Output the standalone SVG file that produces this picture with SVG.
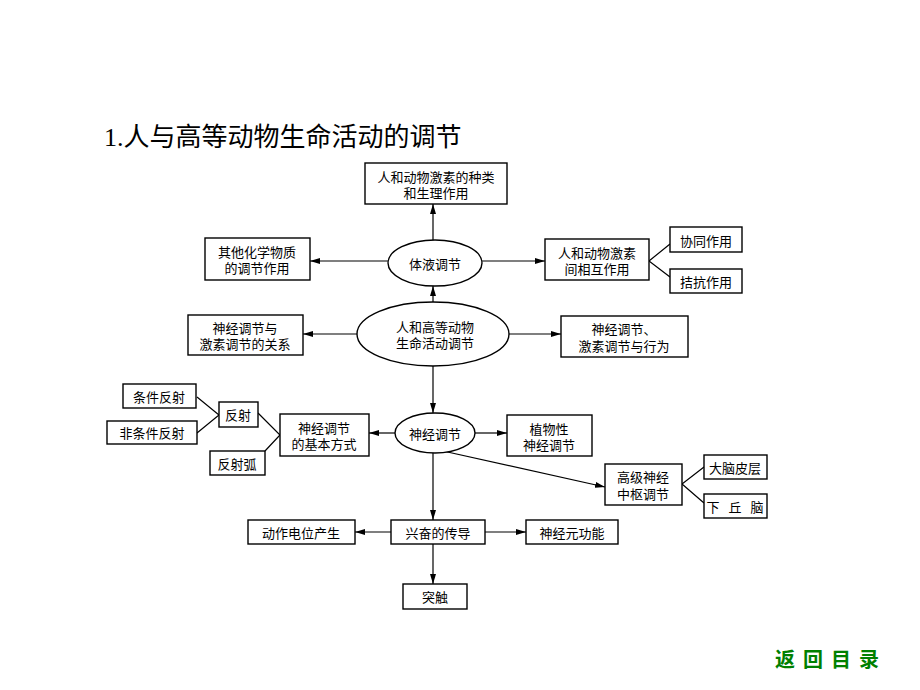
<svg xmlns="http://www.w3.org/2000/svg" width="920" height="690" viewBox="0 0 920 690">
<style>
.b{fill:#fff;stroke:#000;stroke-width:1.4}
.t{font-family:"Noto Sans CJK SC","Noto Sans CJK JP",sans-serif;font-size:13px;fill:#000;text-anchor:middle;dominant-baseline:central}
.c{stroke:#000;stroke-width:1.2;fill:none}
.a{marker-end:url(#ah)}
</style>
<defs>
<marker id="ah" viewBox="0 0 10 6" refX="10" refY="3" markerWidth="10" markerHeight="6" markerUnits="userSpaceOnUse" orient="auto">
<path d="M0,0L10,3L0,6z" fill="#000"/>
</marker>
</defs>
<rect width="920" height="690" fill="#fff"/>
<text x="104" y="146" font-family="'Liberation Serif','Noto Sans CJK SC',serif" font-size="26" fill="#000">1.<tspan font-family="'Noto Sans CJK SC',sans-serif">人与高等动物生命活动的调节</tspan></text>

<g id="connectors">
<line class="c a" x1="433" y1="240" x2="433" y2="204"/>
<line class="c a" x1="388" y1="261" x2="310" y2="261"/>
<line class="c a" x1="482" y1="261" x2="545" y2="261"/>
<line class="c a" x1="433" y1="302" x2="433" y2="286"/>
<line class="c a" x1="357" y1="334" x2="303" y2="334"/>
<line class="c a" x1="509" y1="334" x2="561" y2="334"/>
<line class="c a" x1="433" y1="366" x2="433" y2="413"/>
<line class="c a" x1="395" y1="433" x2="369" y2="433"/>
<line class="c a" x1="475" y1="433" x2="507" y2="433"/>
<line class="c a" x1="443" y1="451" x2="605" y2="487"/>
<line class="c a" x1="433" y1="453" x2="433" y2="520"/>
<line class="c a" x1="391" y1="532" x2="355" y2="532"/>
<line class="c a" x1="485" y1="532" x2="526" y2="532"/>
<line class="c a" x1="433" y1="544" x2="433" y2="584"/>
<polyline class="c" points="670,244 649,261 670,277"/>
<polyline class="c" points="197,397 219,415 197,433"/>
<polyline class="c" points="258,413 280,435 265,451"/>
<polyline class="c" points="704,467 682,484 704,503"/>
</g>

<g id="n_types"><rect class="b" x="365" y="163" width="142" height="41"/><text class="t" x="436" y="176">人和动物激素的种类</text><text class="t" x="436" y="192">和生理作用</text></g>
<g id="n_tiye"><ellipse class="b" cx="435" cy="263" rx="47" ry="23"/><text class="t" x="435" y="263">体液调节</text></g>
<g id="n_other"><rect class="b" x="205" y="238" width="105" height="42"/><text class="t" x="257" y="251">其他化学物质</text><text class="t" x="257" y="267">的调节作用</text></g>
<g id="n_inter"><rect class="b" x="545" y="239" width="104" height="41"/><text class="t" x="597" y="252">人和动物激素</text><text class="t" x="597" y="268">间相互作用</text></g>
<g id="n_xietong"><rect class="b" x="670" y="227" width="72" height="25"/><text class="t" x="706" y="240">协同作用</text></g>
<g id="n_jiekang"><rect class="b" x="670" y="269" width="72" height="24"/><text class="t" x="706" y="281">拮抗作用</text></g>
<g id="n_main"><ellipse class="b" cx="433" cy="334" rx="76" ry="32"/><text class="t" x="435" y="326">人和高等动物</text><text class="t" x="435" y="342">生命活动调节</text></g>
<g id="n_rel"><rect class="b" x="188" y="315" width="115" height="40"/><text class="t" x="245" y="327">神经调节与</text><text class="t" x="245" y="343">激素调节的关系</text></g>
<g id="n_beh"><rect class="b" x="561" y="316" width="127" height="41"/><text class="t" x="624" y="328">神经调节、</text><text class="t" x="624" y="345">激素调节与行为</text></g>
<g id="n_shenjing"><ellipse class="b" cx="435" cy="433" rx="40" ry="20"/><text class="t" x="435" y="433">神经调节</text></g>
<g id="n_basic"><rect class="b" x="280" y="414" width="89" height="42"/><text class="t" x="324" y="427">神经调节</text><text class="t" x="324" y="443">的基本方式</text></g>
<g id="n_fanshe"><rect class="b" x="219" y="402" width="39" height="25"/><text class="t" x="238" y="414">反射</text></g>
<g id="n_tiaojian"><rect class="b" x="123" y="384" width="73" height="24"/><text class="t" x="159" y="396">条件反射</text></g>
<g id="n_feitiaojian"><rect class="b" x="107" y="421" width="90" height="23"/><text class="t" x="152" y="432">非条件反射</text></g>
<g id="n_fanshehu"><rect class="b" x="210" y="451" width="55" height="24"/><text class="t" x="237" y="463">反射弧</text></g>
<g id="n_zhiwu"><rect class="b" x="507" y="415" width="85" height="41"/><text class="t" x="549" y="428">植物性</text><text class="t" x="549" y="444">神经调节</text></g>
<g id="n_gaoji"><rect class="b" x="605" y="464" width="77" height="41"/><text class="t" x="643" y="476">高级神经</text><text class="t" x="643" y="493">中枢调节</text></g>
<g id="n_danao"><rect class="b" x="704" y="455" width="63" height="24"/><text class="t" x="735" y="467">大脑皮层</text></g>
<g id="n_xiaqiu"><rect class="b" x="704" y="494" width="63" height="24"/><text class="t" x="735" y="506" letter-spacing="9" dx="4.5">下丘脑</text></g>
<g id="n_xingfen"><rect class="b" x="391" y="520" width="94" height="24"/><text class="t" x="438" y="532">兴奋的传导</text></g>
<g id="n_dongzuo"><rect class="b" x="248" y="520" width="107" height="24"/><text class="t" x="301" y="532">动作电位产生</text></g>
<g id="n_shenjingyuan"><rect class="b" x="526" y="520" width="92" height="24"/><text class="t" x="572" y="532">神经元功能</text></g>
<g id="n_tuchu"><rect class="b" x="403" y="584" width="64" height="25"/><text class="t" x="435" y="596">突触</text></g>

<text x="775" y="667" font-family="'Noto Sans CJK SC',sans-serif" font-size="20" font-weight="bold" fill="#008000" letter-spacing="8">返回目录</text>
</svg>
